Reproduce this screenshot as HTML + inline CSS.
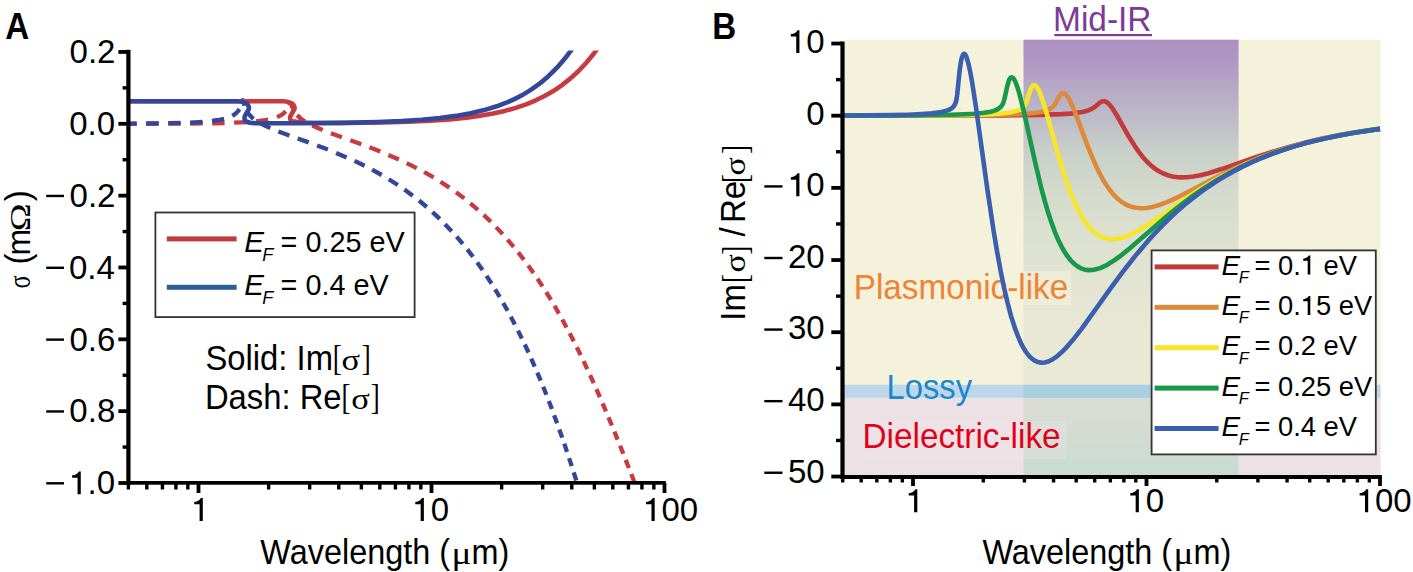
<!DOCTYPE html>
<html><head><meta charset="utf-8"><style>
html,body{margin:0;padding:0;background:#fff;}
body{width:1413px;height:572px;overflow:hidden;}
svg{display:block;}
</style></head><body>
<svg width="1413" height="572" viewBox="0 0 1413 572">
<rect width="1413" height="572" fill="#fff"/>
<defs><clipPath id="clipA"><rect x="128" y="50.5" width="540" height="432.5"/></clipPath>
<clipPath id="clipB"><rect x="843" y="38" width="540" height="440"/></clipPath>
<linearGradient id="midir" gradientUnits="userSpaceOnUse" x1="0" y1="39.7" x2="0" y2="397.8"><stop offset="0.001" stop-color="#ab8fc0"/><stop offset="0.057" stop-color="#b096c4"/><stop offset="0.140" stop-color="#b6aac6"/><stop offset="0.224" stop-color="#bdbcc8"/><stop offset="0.308" stop-color="#c8cfc9"/><stop offset="0.448" stop-color="#d6dccd"/><stop offset="0.587" stop-color="#dee2d0"/><stop offset="0.811" stop-color="#e8e8d4"/><stop offset="0.998" stop-color="#ebead6"/></linearGradient>
<linearGradient id="midir2" gradientUnits="userSpaceOnUse" x1="0" y1="397.8" x2="0" y2="477"><stop offset="0" stop-color="#dcdcd6"/><stop offset="1" stop-color="#c8dbd0"/></linearGradient>
</defs>
<g clip-path="url(#clipA)" fill="none" stroke-linejoin="round">
<path d="M128.4,123.8 L136.7,123.7 M146.2,123.7 L158.7,123.7 M168.2,123.7 L180.7,123.6 M190.2,123.5 L202.7,123.4 M212.2,123.3 L224.6,123.0 M234.1,122.7 L246.6,122.1 M256.0,121.3 L262.6,120.5 L268.2,119.6 M277.0,117.1 L279.7,115.9 L282.0,114.6 L284.0,113.0 L285.7,111.3 M289.1,105.4 L289.9,103.7 L290.3,103.5 L290.7,103.6 L291.3,104.7 L293.2,109.3 M297.1,115.1 L300.5,118.4 L304.9,121.5 M312.2,125.6 L322.7,130.1 M330.9,133.3 L341.9,137.3 M350.3,140.3 L361.3,144.2 M369.5,147.3 L380.3,151.5 M388.4,154.9 L398.9,159.4 M406.7,163.1 L416.7,168.1 M424.1,172.0 L433.6,177.4 M440.5,181.7 L449.4,187.6 M456.0,192.2 L464.3,198.4 M470.3,203.3 L478.0,209.9 M483.7,214.9 L490.8,221.8 M496.1,227.1 L502.7,234.1 M507.5,239.6 L513.7,246.8 M518.2,252.4 L523.9,259.8 M528.2,265.5 L533.5,273.0 M537.5,278.8 L542.5,286.4 M546.2,292.2 L551.0,299.9 M554.5,305.8 L558.9,313.6 M562.3,319.5 L566.5,327.4 M569.7,333.3 L573.8,341.2 M576.8,347.2 L580.7,355.1 M583.6,361.2 L587.3,369.1 M590.1,375.2 L593.7,383.2 M596.4,389.2 L599.9,397.2 M602.6,403.3 L606.0,411.3 M608.5,417.4 L611.9,425.5 M614.4,431.6 L617.6,439.6 M620.1,445.7 L623.3,453.8 M625.7,459.9 L628.9,468.0 M631.3,474.1 L634.4,482.2 M636.8,488.3 L639.4,494.9" stroke="#c83a3f" stroke-width="4.3"/>
<path d="M128.4,123.6 L136.7,123.6 M146.2,123.5 L158.7,123.4 M168.2,123.2 L180.6,122.9 M190.1,122.6 L202.6,121.8 M212.0,120.9 L218.5,120.0 L224.1,118.8 M232.3,115.8 L234.6,114.4 L236.5,112.8 L238.1,111.1 L239.4,109.0 M241.8,102.9 L242.5,100.6 L242.8,100.2 L242.9,100.3 L243.4,101.3 L244.5,105.6 M247.1,111.7 L248.4,113.6 L249.8,115.3 L251.5,117.1 L253.5,118.8 M260.2,123.2 L264.8,125.6 L270.3,128.1 M278.4,131.4 L289.4,135.5 M297.7,138.5 L308.7,142.4 M317.1,145.5 L327.9,149.6 M336.1,152.9 L346.6,157.4 M354.5,160.9 L364.6,165.8 M372.1,169.7 L381.7,175.0 M388.8,179.2 L397.8,185.0 M404.4,189.5 L412.8,195.7 M419.0,200.5 L426.8,207.0 M432.5,212.1 L439.8,218.9 M445.0,224.2 L451.7,231.2 M456.6,236.6 L462.8,243.9 M467.3,249.4 L473.0,256.8 M477.2,262.5 L482.6,270.1 M486.5,275.8 L491.5,283.5 M495.1,289.3 L499.8,297.0 M503.2,303.0 L507.6,310.8 M510.8,316.7 L514.9,324.6 M518.0,330.6 L521.9,338.5 M524.8,344.5 L528.5,352.5 M531.2,358.6 L534.7,366.6 M537.3,372.6 L540.7,380.7 M543.2,386.8 L546.4,394.8 M548.8,401.0 L551.9,409.0 M554.1,415.2 L557.1,423.3 M559.3,429.5 L562.2,437.6 M564.3,443.7 L567.0,451.9 M569.1,458.1 L571.7,466.2 M573.7,472.4 L576.3,480.5 M578.2,486.7 L580.7,494.9" stroke="#33479a" stroke-width="4.3"/>
<path d="M128.4,101.2 L283.9,101.2 C289.9,101.2 295.4,104.2 294.4,109.2 L290.4,116.2 C289.4,119.2 290.9,122.3 294.9,122.3 L294.9,121.4 L297.4,122.1 L300.8,122.5 L313.9,123.0 L346.0,123.0 L382.6,122.5 L408.1,121.7 L430.1,120.7 L449.3,119.4 L466.5,117.6 L480.3,115.8 L493.0,113.5 L504.8,110.9 L515.8,107.9 L526.1,104.4 L535.8,100.3 L545.0,95.8 L553.7,90.8 L562.4,84.8 L570.8,78.1 L578.8,70.7 L586.5,62.5 L593.9,53.5 L601.0,43.7 L608.0,32.9 L614.7,21.3 L621.3,8.6 L627.8,-5.1 L634.1,-19.9 L640.3,-35.6 L646.4,-52.5 L652.4,-70.8 L658.5,-90.5 L664.5,-111.3" stroke="#c83a3f" stroke-width="4.6"/>
<path d="M128.4,101.2 L238.3,101.2 C244.3,101.2 249.8,104.2 248.8,109.2 L244.8,116.2 C243.8,119.2 245.3,122.3 249.3,122.3 L249.4,122.7 L254.2,123.1 L262.5,123.3 L298.2,123.3 L342.3,122.9 L377.6,122.0 L401.2,121.1 L421.7,119.7 L439.7,118.0 L455.9,115.9 L470.7,113.2 L484.2,110.1 L496.7,106.3 L508.3,101.8 L513.8,99.4 L519.1,96.7 L524.2,93.9 L529.2,90.9 L534.0,87.7 L538.8,84.2 L543.3,80.6 L547.8,76.7 L552.5,72.2 L557.2,67.4 L561.7,62.3 L566.1,57.0 L570.5,51.2 L574.7,45.2 L578.8,38.9 L582.8,32.3 L590.7,17.9 L598.2,2.2 L605.5,-15.1 L612.6,-33.9 L619.5,-54.4 L626.2,-76.9 L632.9,-101.1 L639.3,-127.0 L645.6,-154.9 L652.0,-185.2 L658.2,-217.5 L664.5,-252.2" stroke="#33479a" stroke-width="4.6"/>
</g>
<g fill="#000">
<rect x="126.3" y="49.8" width="4.2" height="435"/>
<rect x="126.3" y="481" width="539.5" height="3.7"/>
<rect x="118.4" y="50.06" width="9" height="3.8"/>
<rect x="122.6" y="86.18" width="5" height="3.4"/>
<rect x="118.4" y="121.90" width="9" height="3.8"/>
<rect x="122.6" y="158.02" width="5" height="3.4"/>
<rect x="118.4" y="193.74" width="9" height="3.8"/>
<rect x="122.6" y="229.86" width="5" height="3.4"/>
<rect x="118.4" y="265.58" width="9" height="3.8"/>
<rect x="122.6" y="301.70" width="5" height="3.4"/>
<rect x="118.4" y="337.42" width="9" height="3.8"/>
<rect x="122.6" y="373.54" width="5" height="3.4"/>
<rect x="118.4" y="409.26" width="9" height="3.8"/>
<rect x="122.6" y="445.38" width="5" height="3.4"/>
<rect x="118.4" y="481.10" width="9" height="3.8"/>
<rect x="126.66" y="483" width="3.4" height="6.5"/>
<rect x="145.11" y="483" width="3.4" height="6.5"/>
<rect x="160.71" y="483" width="3.4" height="6.5"/>
<rect x="174.22" y="483" width="3.4" height="6.5"/>
<rect x="186.14" y="483" width="3.4" height="6.5"/>
<rect x="196.60" y="483" width="3.8" height="10"/>
<rect x="266.94" y="483" width="3.4" height="6.5"/>
<rect x="307.97" y="483" width="3.4" height="6.5"/>
<rect x="337.08" y="483" width="3.4" height="6.5"/>
<rect x="359.66" y="483" width="3.4" height="6.5"/>
<rect x="378.11" y="483" width="3.4" height="6.5"/>
<rect x="393.71" y="483" width="3.4" height="6.5"/>
<rect x="407.22" y="483" width="3.4" height="6.5"/>
<rect x="419.14" y="483" width="3.4" height="6.5"/>
<rect x="429.60" y="483" width="3.8" height="10"/>
<rect x="499.94" y="483" width="3.4" height="6.5"/>
<rect x="540.97" y="483" width="3.4" height="6.5"/>
<rect x="570.08" y="483" width="3.4" height="6.5"/>
<rect x="592.66" y="483" width="3.4" height="6.5"/>
<rect x="611.11" y="483" width="3.4" height="6.5"/>
<rect x="626.71" y="483" width="3.4" height="6.5"/>
<rect x="640.22" y="483" width="3.4" height="6.5"/>
<rect x="652.14" y="483" width="3.4" height="6.5"/>
<rect x="662.60" y="483" width="3.8" height="10"/>
</g>
<text x="69.59" y="63.26" font-family='"Liberation Sans", sans-serif' font-size="33" fill="#000" >0.2</text>
<text x="69.21" y="135.10" font-family='"Liberation Sans", sans-serif' font-size="33" fill="#000" >0.0</text>
<text x="69.59" y="206.94" font-family='"Liberation Sans", sans-serif' font-size="33" fill="#000" >0.2</text>
<rect x="46.2" y="194.74" width="17.8" height="2.4"/>
<text x="68.89" y="278.78" font-family='"Liberation Sans", sans-serif' font-size="33" fill="#000" >0.4</text>
<rect x="46.2" y="266.58" width="17.8" height="2.4"/>
<text x="69.38" y="350.62" font-family='"Liberation Sans", sans-serif' font-size="33" fill="#000" >0.6</text>
<rect x="46.2" y="338.42" width="17.8" height="2.4"/>
<text x="69.36" y="422.46" font-family='"Liberation Sans", sans-serif' font-size="33" fill="#000" >0.8</text>
<rect x="46.2" y="410.26" width="17.8" height="2.4"/>
<text x="69.21" y="494.30" font-family='"Liberation Sans", sans-serif' font-size="33" fill="#000" > .0</text><path d="M80.76,494.30 V471.40 H78.86 C78.16,473.20 75.76,475.00 72.16,475.30 V477.70 H77.56 V494.30 Z" fill="#000"/>
<rect x="46.2" y="482.10" width="17.8" height="2.4"/>
<text x="191.25" y="520.90" font-family='"Liberation Sans", sans-serif' font-size="33" fill="#000" > </text><path d="M202.80,520.90 V498.00 H200.90 C200.20,499.80 197.80,501.60 194.20,501.90 V504.30 H199.60 V520.90 Z" fill="#000"/>
<text x="412.32" y="520.90" font-family='"Liberation Sans", sans-serif' font-size="33" fill="#000" > 0</text><path d="M423.87,520.90 V498.00 H421.97 C421.27,499.80 418.87,501.60 415.27,501.90 V504.30 H420.67 V520.90 Z" fill="#000"/>
<text x="643.14" y="520.90" font-family='"Liberation Sans", sans-serif' font-size="33" fill="#000" > 00</text><path d="M654.69,520.90 V498.00 H652.79 C652.09,499.80 649.69,501.60 646.09,501.90 V504.30 H651.49 V520.90 Z" fill="#000"/>
<text transform="translate(260.36,563.60) scale(1.0,1.08)" font-family='"Liberation Sans", sans-serif' font-size="32.4" fill="#000" >Wavelength (</text>
<text transform="translate(451.48,563.60) scale(1.2,1.0)" font-family='"Liberation Serif", serif' font-size="31" fill="#000" >μ</text>
<text transform="translate(471.45,563.60) scale(1.0,1.08)" font-family='"Liberation Sans", sans-serif' font-size="32.4" fill="#000" >m)</text>
<g transform="translate(30.3,292.5) rotate(-90)"><text transform="translate(3.97,0.00) scale(0.8,1.0)" font-family='"Liberation Serif", serif' font-size="30.6" fill="#000" >σ</text><text transform="translate(27.95,0.00) scale(1.0,1.07)" font-family='"Liberation Sans", sans-serif' font-size="33" fill="#000" >(</text><text transform="translate(36.98,0.00) scale(1.0,1.05)" font-family='"Liberation Sans", sans-serif' font-size="32" fill="#000" >m</text><text transform="translate(61.26,-0.50) scale(1.25,1.0)" font-family='"Liberation Serif", serif' font-size="30" fill="#000" >Ω</text><text transform="translate(91.31,0.00) scale(1.0,1.07)" font-family='"Liberation Sans", sans-serif' font-size="33" fill="#000" >)</text></g>
<text transform="translate(5.27,38.70) scale(1.0,1.11)" font-family='"Liberation Sans", sans-serif' font-size="33.2" fill="#000" font-weight="bold" >A</text>
<rect x="155.4" y="212.5" width="259.2" height="104.6" fill="#fff" stroke="#333" stroke-width="1.8"/>
<rect x="166.8" y="236.4" width="69.8" height="5" fill="#c13a3e"/>
<rect x="166.8" y="284.8" width="69.8" height="5" fill="#2b5f96"/>
<text x="244.19" y="251.60" font-family='"Liberation Sans", sans-serif' font-size="29.5" fill="#000" font-style="italic" >E</text>
<text x="262.34" y="260.60" font-family='"Liberation Sans", sans-serif' font-size="18.2" fill="#000" font-style="italic" >F</text>
<text x="280.59" y="251.60" font-family='"Liberation Sans", sans-serif' font-size="28.8" fill="#000" >= 0.25 eV</text>
<text x="244.19" y="294.60" font-family='"Liberation Sans", sans-serif' font-size="29.5" fill="#000" font-style="italic" >E</text>
<text x="262.34" y="303.60" font-family='"Liberation Sans", sans-serif' font-size="18.2" fill="#000" font-style="italic" >F</text>
<text x="280.59" y="294.60" font-family='"Liberation Sans", sans-serif' font-size="28.8" fill="#000" >= 0.4 eV</text>
<text transform="translate(205.41,369.90) scale(1.0,1.065)" font-family='"Liberation Sans", sans-serif' font-size="32.8" fill="#000" >Solid: Im</text>
<text transform="translate(332.70,369.90) scale(0.75,1.0)" font-family='"Liberation Serif", serif' font-size="36" fill="#000" >[</text>
<text transform="translate(341.49,369.90) scale(1.2,1.0)" font-family='"Liberation Serif", serif' font-size="28.7" fill="#000" >σ</text>
<text transform="translate(361.81,369.90) scale(0.75,1.0)" font-family='"Liberation Serif", serif' font-size="36" fill="#000" >]</text>
<text transform="translate(204.91,408.80) scale(1.0,1.065)" font-family='"Liberation Sans", sans-serif' font-size="32.8" fill="#000" >Dash: Re</text>
<text transform="translate(341.60,408.80) scale(0.75,1.0)" font-family='"Liberation Serif", serif' font-size="36" fill="#000" >[</text>
<text transform="translate(351.19,408.80) scale(1.2,1.0)" font-family='"Liberation Serif", serif' font-size="28.7" fill="#000" >σ</text>
<text transform="translate(370.81,408.80) scale(0.75,1.0)" font-family='"Liberation Serif", serif' font-size="36" fill="#000" >]</text>
<rect x="844.0" y="39.7" width="536.5" height="437.3" fill="#f5f2dc"/>
<rect x="844.0" y="397.8" width="536.5" height="79.19999999999999" fill="#ece2e5"/>
<rect x="1023.5" y="39.7" width="215.0999999999999" height="358.1" fill="url(#midir)"/>
<rect x="1023.5" y="397.8" width="215.0999999999999" height="79.19999999999999" fill="url(#midir2)"/>
<rect x="844.0" y="384.8" width="536.5" height="13" fill="#bdd7ea"/>
<rect x="1023.5" y="384.8" width="215.0999999999999" height="13" fill="#a9cfe2"/>
<rect x="852" y="271" width="219" height="34" fill="#f5f2dc" opacity="0.6"/>
<rect x="861" y="421" width="206" height="38" fill="#f0e8ea" opacity="0.25"/>
<text transform="translate(853.77,298.70) scale(1.0,1.07)" font-family='"Liberation Sans", sans-serif' font-size="33.26" fill="#ee8433" >Plasmonic-like</text>
<text transform="translate(886.62,398.80) scale(1.0,1.07)" font-family='"Liberation Sans", sans-serif' font-size="32.7" fill="#1a88c9" >Lossy</text>
<text transform="translate(862.47,448.10) scale(1.0,1.03)" font-family='"Liberation Sans", sans-serif' font-size="33.34" fill="#e2001a" >Dielectric-like</text>
<g clip-path="url(#clipB)" fill="none" stroke-linejoin="round">
<path d="M842.7,115.7 L1003.7,115.4 L1038.6,114.9 L1061.8,114.1 L1070.1,113.6 L1077.1,112.8 L1082.5,111.9 L1087.0,110.8 L1090.3,109.6 L1093.2,108.0 L1095.4,106.4 L1099.4,102.9 L1101.0,101.8 L1102.6,101.2 L1104.2,101.2 L1106.1,101.9 L1108.0,103.2 L1110.1,105.4 L1112.3,108.2 L1116.6,115.0 L1128.4,135.8 L1134.6,145.8 L1138.1,150.9 L1141.3,155.1 L1144.5,159.0 L1148.0,162.7 L1151.8,166.1 L1155.6,169.1 L1159.3,171.5 L1163.4,173.5 L1167.7,175.2 L1172.0,176.4 L1176.5,177.1 L1181.1,177.4 L1187.0,177.3 L1193.5,176.5 L1200.5,175.2 L1208.5,173.2 L1222.5,168.8 L1255.0,157.5 L1272.0,151.9 L1290.0,146.6 L1307.7,141.9 L1324.6,138.1 L1342.4,134.6 L1360.6,131.5 L1380.0,128.8" stroke="#c33a3a" stroke-width="4.6"/>
<path d="M842.7,115.7 L933.3,115.5 L981.4,115.2 L1012.0,114.5 L1023.1,114.0 L1031.7,113.3 L1038.1,112.5 L1043.2,111.5 L1047.3,110.2 L1050.5,108.7 L1052.6,107.0 L1054.5,104.8 L1056.1,102.2 L1059.1,96.6 L1060.4,94.6 L1062.0,93.3 L1062.8,93.1 L1063.9,93.2 L1065.5,94.2 L1067.4,96.4 L1069.3,99.5 L1071.4,103.8 L1075.5,113.4 L1087.0,144.4 L1093.2,159.6 L1096.7,167.4 L1100.2,174.5 L1103.4,180.3 L1106.9,185.9 L1110.7,191.1 L1114.4,195.6 L1118.5,199.5 L1122.5,202.5 L1126.8,205.0 L1131.1,206.7 L1135.7,207.8 L1140.5,208.3 L1146.4,208.0 L1152.6,206.9 L1159.3,205.0 L1166.9,202.2 L1173.3,199.3 L1180.6,195.8 L1216.3,177.2 L1235.7,167.8 L1246.4,163.1 L1257.2,158.6 L1267.9,154.6 L1278.7,150.8 L1290.0,147.3 L1301.8,143.9 L1313.6,140.9 L1326.0,138.0 L1338.6,135.4 L1351.8,133.1 L1365.5,130.9 L1380.0,128.9" stroke="#dc8a3a" stroke-width="4.6"/>
<path d="M842.7,115.6 L921.7,115.5 L964.7,115.0 L980.1,114.6 L992.2,114.1 L1001.6,113.4 L1009.1,112.5 L1014.2,111.4 L1018.2,110.2 L1021.2,108.7 L1023.6,106.7 L1025.2,104.5 L1026.6,101.7 L1030.0,90.8 L1031.4,87.6 L1032.2,86.3 L1033.0,85.5 L1033.8,85.2 L1034.9,85.3 L1035.7,85.8 L1036.5,86.6 L1038.1,89.1 L1040.0,93.1 L1042.1,98.8 L1046.2,111.7 L1058.0,154.1 L1064.2,174.5 L1067.7,184.8 L1071.2,194.2 L1074.4,202.0 L1077.9,209.5 L1081.7,216.4 L1085.7,222.7 L1089.7,227.8 L1093.7,231.8 L1098.1,235.0 L1102.4,237.2 L1106.9,238.6 L1111.8,239.2 L1114.4,239.1 L1117.4,238.8 L1123.3,237.4 L1130.0,234.8 L1137.3,231.2 L1143.5,227.6 L1150.7,223.0 L1188.6,196.7 L1199.4,189.7 L1209.9,183.2 L1222.0,176.2 L1233.8,170.0 L1245.9,164.2 L1258.0,159.0 L1271.1,153.8 L1284.9,149.1 L1298.8,144.9 L1313.6,141.0 L1328.9,137.5 L1345.1,134.3 L1362.0,131.5 L1380.0,128.9" stroke="#f7e52a" stroke-width="4.6"/>
<path d="M842.7,115.6 L912.3,115.4 L951.0,114.8 L964.7,114.3 L975.5,113.7 L984.1,112.8 L990.5,111.7 L994.6,110.6 L997.8,109.2 L1000.2,107.4 L1002.1,105.2 L1003.2,103.1 L1004.2,99.9 L1007.5,85.3 L1008.8,80.8 L1009.6,79.0 L1010.7,77.6 L1011.5,77.3 L1012.6,77.6 L1013.4,78.3 L1014.2,79.5 L1015.8,82.8 L1017.7,88.1 L1019.6,94.4 L1023.6,110.6 L1035.2,162.5 L1041.3,188.2 L1044.8,201.2 L1048.3,213.1 L1051.6,222.9 L1055.0,232.3 L1058.8,241.1 L1062.8,249.0 L1066.9,255.5 L1070.9,260.6 L1075.2,264.7 L1077.4,266.2 L1079.5,267.5 L1081.9,268.6 L1084.3,269.4 L1086.8,269.9 L1089.2,270.1 L1091.9,270.0 L1094.8,269.5 L1097.8,268.8 L1100.7,267.8 L1107.2,264.8 L1114.2,260.4 L1120.4,256.0 L1127.3,250.4 L1167.1,216.0 L1178.7,206.6 L1190.0,198.0 L1202.6,189.1 L1215.5,180.9 L1228.4,173.4 L1241.8,166.5 L1256.4,159.9 L1271.7,153.8 L1287.5,148.4 L1303.9,143.6 L1321.4,139.2 L1339.7,135.3 L1359.3,131.9 L1380.0,128.9" stroke="#17984a" stroke-width="4.6"/>
<path d="M842.7,115.5 L892.2,115.1 L908.6,114.7 L921.5,114.1 L931.7,113.4 L939.5,112.4 L945.4,111.1 L949.7,109.5 L952.1,108.0 L953.7,106.3 L955.1,104.1 L955.9,101.9 L956.7,98.2 L957.2,94.5 L959.6,70.7 L961.0,61.4 L961.8,57.8 L962.9,54.9 L963.4,54.1 L963.9,53.8 L964.5,53.9 L965.0,54.3 L965.8,55.5 L966.6,57.4 L968.2,62.8 L970.1,71.2 L972.0,81.5 L976.0,107.5 L987.6,190.9 L993.8,232.0 L997.3,252.8 L1000.8,271.8 L1004.0,287.5 L1007.5,302.5 L1011.2,316.6 L1015.3,329.2 L1019.3,339.5 L1021.4,344.1 L1023.6,348.1 L1025.7,351.5 L1027.9,354.5 L1030.0,356.9 L1032.2,358.9 L1034.6,360.6 L1037.0,361.7 L1039.5,362.4 L1041.9,362.7 L1044.6,362.5 L1047.3,361.8 L1049.9,360.8 L1052.9,359.2 L1055.9,357.2 L1058.8,354.8 L1062.0,351.9 L1065.5,348.4 L1072.8,340.1 L1081.4,329.1 L1112.0,286.4 L1125.2,268.7 L1136.5,254.4 L1147.5,241.4 L1154.8,233.4 L1162.0,225.8 L1169.3,218.6 L1176.8,211.6 L1184.3,205.0 L1191.9,198.9 L1199.4,193.1 L1207.2,187.5 L1215.8,181.8 L1224.4,176.5 L1233.5,171.4 L1242.7,166.6 L1252.1,162.2 L1261.7,158.0 L1271.7,154.0 L1282.2,150.3 L1292.9,146.8 L1303.9,143.6 L1315.5,140.6 L1327.3,137.9 L1339.7,135.4 L1352.6,133.0 L1366.0,130.9 L1380.0,128.9" stroke="#3a5fae" stroke-width="4.6"/>
</g>
<rect x="1151.6" y="250.4" width="224.2" height="204" fill="#fff" stroke="#333" stroke-width="1.8"/>
<rect x="1154.6" y="264.4" width="64" height="5" fill="#c33a3a"/>
<text x="1221.54" y="274.50" font-family='"Liberation Sans", sans-serif' font-size="27.9" fill="#000" font-style="italic" >E</text>
<text x="1238.69" y="282.90" font-family='"Liberation Sans", sans-serif' font-size="16.5" fill="#000" font-style="italic" >F</text>
<text x="1254.47" y="274.50" font-family='"Liberation Sans", sans-serif' font-size="27.3" fill="#000" >= 0.  eV</text><path d="M1310.32,274.50 V255.56 H1308.75 C1308.17,257.04 1306.18,258.53 1303.20,258.78 V260.77 H1307.67 V274.50 Z" fill="#000"/>
<rect x="1154.6" y="304.8" width="64" height="5" fill="#dc8a3a"/>
<text x="1221.54" y="314.90" font-family='"Liberation Sans", sans-serif' font-size="27.9" fill="#000" font-style="italic" >E</text>
<text x="1238.69" y="323.30" font-family='"Liberation Sans", sans-serif' font-size="16.5" fill="#000" font-style="italic" >F</text>
<text x="1254.47" y="314.90" font-family='"Liberation Sans", sans-serif' font-size="27.3" fill="#000" >= 0. 5 eV</text><path d="M1310.32,314.90 V295.96 H1308.75 C1308.17,297.44 1306.18,298.93 1303.20,299.18 V301.17 H1307.67 V314.90 Z" fill="#000"/>
<rect x="1154.6" y="345.2" width="64" height="5" fill="#f7e52a"/>
<text x="1221.54" y="355.30" font-family='"Liberation Sans", sans-serif' font-size="27.9" fill="#000" font-style="italic" >E</text>
<text x="1238.69" y="363.70" font-family='"Liberation Sans", sans-serif' font-size="16.5" fill="#000" font-style="italic" >F</text>
<text x="1254.47" y="355.30" font-family='"Liberation Sans", sans-serif' font-size="27.3" fill="#000" >= 0.2 eV</text>
<rect x="1154.6" y="385.6" width="64" height="5" fill="#17984a"/>
<text x="1221.54" y="395.70" font-family='"Liberation Sans", sans-serif' font-size="27.9" fill="#000" font-style="italic" >E</text>
<text x="1238.69" y="404.10" font-family='"Liberation Sans", sans-serif' font-size="16.5" fill="#000" font-style="italic" >F</text>
<text x="1254.47" y="395.70" font-family='"Liberation Sans", sans-serif' font-size="27.3" fill="#000" >= 0.25 eV</text>
<rect x="1154.6" y="426.0" width="64" height="5" fill="#3a5fae"/>
<text x="1221.54" y="436.10" font-family='"Liberation Sans", sans-serif' font-size="27.9" fill="#000" font-style="italic" >E</text>
<text x="1238.69" y="444.50" font-family='"Liberation Sans", sans-serif' font-size="16.5" fill="#000" font-style="italic" >F</text>
<text x="1254.47" y="436.10" font-family='"Liberation Sans", sans-serif' font-size="27.3" fill="#000" >= 0.4 eV</text>
<g fill="#000">
<rect x="840.4" y="41.5" width="4.2" height="437.5"/>
<rect x="840.4" y="475" width="541.5" height="4"/>
<rect x="831.3" y="41.63" width="11" height="3.8"/>
<rect x="836" y="77.92" width="6" height="3.4"/>
<rect x="831.3" y="113.80" width="11" height="3.8"/>
<rect x="836" y="150.09" width="6" height="3.4"/>
<rect x="831.3" y="185.97" width="11" height="3.8"/>
<rect x="836" y="222.25" width="6" height="3.4"/>
<rect x="831.3" y="258.14" width="11" height="3.8"/>
<rect x="836" y="294.43" width="6" height="3.4"/>
<rect x="831.3" y="330.31" width="11" height="3.8"/>
<rect x="836" y="366.60" width="6" height="3.4"/>
<rect x="831.3" y="402.48" width="11" height="3.8"/>
<rect x="836" y="438.76" width="6" height="3.4"/>
<rect x="831.3" y="474.65" width="11" height="3.8"/>
<rect x="841.01" y="477" width="3.4" height="5.5"/>
<rect x="859.50" y="477" width="3.4" height="5.5"/>
<rect x="875.13" y="477" width="3.4" height="5.5"/>
<rect x="888.67" y="477" width="3.4" height="5.5"/>
<rect x="900.62" y="477" width="3.4" height="5.5"/>
<rect x="911.10" y="477" width="3.8" height="9"/>
<rect x="981.59" y="477" width="3.4" height="5.5"/>
<rect x="1022.71" y="477" width="3.4" height="5.5"/>
<rect x="1051.88" y="477" width="3.4" height="5.5"/>
<rect x="1074.51" y="477" width="3.4" height="5.5"/>
<rect x="1093.00" y="477" width="3.4" height="5.5"/>
<rect x="1108.63" y="477" width="3.4" height="5.5"/>
<rect x="1122.17" y="477" width="3.4" height="5.5"/>
<rect x="1134.12" y="477" width="3.4" height="5.5"/>
<rect x="1144.60" y="477" width="3.8" height="9"/>
<rect x="1215.09" y="477" width="3.4" height="5.5"/>
<rect x="1256.21" y="477" width="3.4" height="5.5"/>
<rect x="1285.38" y="477" width="3.4" height="5.5"/>
<rect x="1308.01" y="477" width="3.4" height="5.5"/>
<rect x="1326.50" y="477" width="3.4" height="5.5"/>
<rect x="1342.13" y="477" width="3.4" height="5.5"/>
<rect x="1355.67" y="477" width="3.4" height="5.5"/>
<rect x="1367.62" y="477" width="3.4" height="5.5"/>
<rect x="1378.10" y="477" width="3.8" height="9"/>
</g>
<text x="787.88" y="53.11" font-family='"Liberation Sans", sans-serif' font-size="33" fill="#000" > 0</text><path d="M799.43,53.11 V30.21 H797.53 C796.83,32.01 794.43,33.81 790.83,34.11 V36.51 H796.23 V53.11 Z" fill="#000"/>
<text x="806.24" y="124.69" font-family='"Liberation Sans", sans-serif' font-size="33" fill="#000" >0</text>
<text x="787.88" y="196.27" font-family='"Liberation Sans", sans-serif' font-size="33" fill="#000" > 0</text><path d="M799.43,196.27 V173.37 H797.53 C796.83,175.17 794.43,176.97 790.83,177.27 V179.67 H796.23 V196.27 Z" fill="#000"/>
<rect x="764.3" y="185.22" width="18.2" height="2.4" fill="#000"/>
<text x="787.88" y="267.85" font-family='"Liberation Sans", sans-serif' font-size="33" fill="#000" >20</text>
<rect x="764.3" y="256.80" width="18.2" height="2.4" fill="#000"/>
<text x="787.88" y="339.43" font-family='"Liberation Sans", sans-serif' font-size="33" fill="#000" >30</text>
<rect x="764.3" y="328.38" width="18.2" height="2.4" fill="#000"/>
<text x="787.88" y="411.01" font-family='"Liberation Sans", sans-serif' font-size="33" fill="#000" >40</text>
<rect x="764.3" y="399.96" width="18.2" height="2.4" fill="#000"/>
<text x="787.88" y="482.59" font-family='"Liberation Sans", sans-serif' font-size="33" fill="#000" >50</text>
<rect x="764.3" y="471.54" width="18.2" height="2.4" fill="#000"/>
<text x="905.75" y="512.20" font-family='"Liberation Sans", sans-serif' font-size="33" fill="#000" > </text><path d="M917.30,512.20 V489.30 H915.40 C914.70,491.10 912.30,492.90 908.70,493.20 V495.60 H914.10 V512.20 Z" fill="#000"/>
<text x="1127.32" y="512.20" font-family='"Liberation Sans", sans-serif' font-size="33" fill="#000" > 0</text><path d="M1138.87,512.20 V489.30 H1136.97 C1136.27,491.10 1133.87,492.90 1130.27,493.20 V495.60 H1135.67 V512.20 Z" fill="#000"/>
<text x="1356.64" y="512.20" font-family='"Liberation Sans", sans-serif' font-size="33" fill="#000" > 00</text><path d="M1368.19,512.20 V489.30 H1366.29 C1365.59,491.10 1363.19,492.90 1359.59,493.20 V495.60 H1364.99 V512.20 Z" fill="#000"/>
<text transform="translate(982.46,563.70) scale(1.0,1.08)" font-family='"Liberation Sans", sans-serif' font-size="32.4" fill="#000" >Wavelength (</text>
<text transform="translate(1173.58,563.70) scale(1.2,1.0)" font-family='"Liberation Serif", serif' font-size="31" fill="#000" >μ</text>
<text transform="translate(1193.55,563.70) scale(1.0,1.08)" font-family='"Liberation Sans", sans-serif' font-size="32.4" fill="#000" >m)</text>
<g transform="translate(744.6,317.7) rotate(-90)"><text transform="translate(-3.05,0.00) scale(1.0,1.07)" font-family='"Liberation Sans", sans-serif' font-size="33" fill="#000" >Im</text><text transform="translate(34.70,2.00) scale(0.75,1.0)" font-family='"Liberation Serif", serif' font-size="36" fill="#000" >[</text><text transform="translate(45.10,0.00) scale(1.2,1.0)" font-family='"Liberation Serif", serif' font-size="28.4" fill="#000" >σ</text><text transform="translate(63.01,2.00) scale(0.75,1.0)" font-family='"Liberation Serif", serif' font-size="36" fill="#000" >]</text><text transform="translate(81.30,0.00) scale(1.0,1.07)" font-family='"Liberation Sans", sans-serif' font-size="33" fill="#000" >/</text><text transform="translate(94.59,0.00) scale(1.0,1.07)" font-family='"Liberation Sans", sans-serif' font-size="33" fill="#000" >Re</text><text transform="translate(134.60,2.00) scale(0.75,1.0)" font-family='"Liberation Serif", serif' font-size="36" fill="#000" >[</text><text transform="translate(142.30,0.00) scale(1.2,1.0)" font-family='"Liberation Serif", serif' font-size="28.4" fill="#000" >σ</text><text transform="translate(163.71,2.00) scale(0.75,1.0)" font-family='"Liberation Serif", serif' font-size="36" fill="#000" >]</text></g>
<text transform="translate(712.18,38.70) scale(1.0,1.11)" font-family='"Liberation Sans", sans-serif' font-size="33.2" fill="#000" font-weight="bold" >B</text>
<text transform="translate(1053.06,31.20) scale(1.0,1.07)" font-family='"Liberation Sans", sans-serif' font-size="33.45" fill="#7b3b96" >Mid-IR</text>
<rect x="1054.3" y="34" width="97.7" height="2.2" fill="#7b3b96"/>
</svg></body></html>
